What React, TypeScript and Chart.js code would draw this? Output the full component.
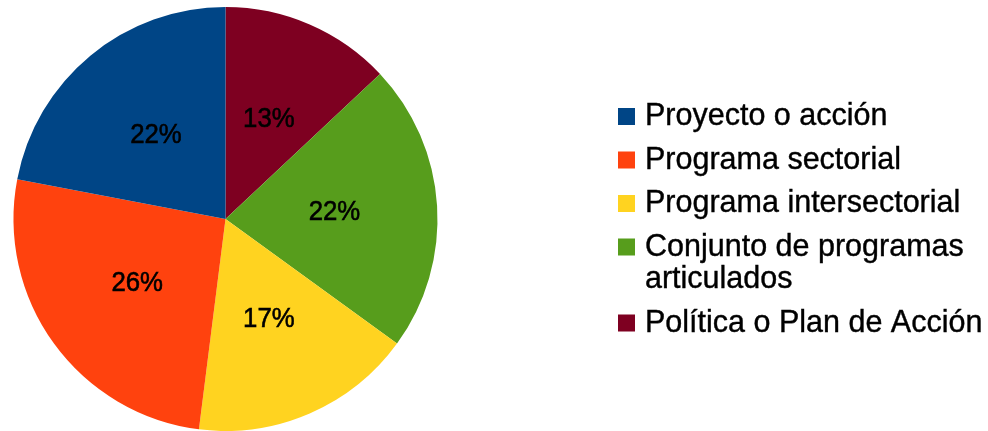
import React, { useEffect, useRef } from "react";
import { Chart, registerables } from "chart.js";

Chart.register(...registerables);

// Legend order (as shown in the reference legend)
const categories = [
  "Proyecto o acción",
  "Programa sectorial",
  "Programa intersectorial",
  "Conjunto de programas articulados",
  "Política o Plan de Acción",
];
const values = [22, 26, 17, 22, 13];
const colors = ["#004586", "#ff420e", "#ffd320", "#579d1c", "#7e0021"];

const FONT = '"Liberation Sans", Arial, sans-serif';

function wrapText(ctx: CanvasRenderingContext2D, text: string, maxWidth: number): string[] {
  const words = text.split(" ");
  const lines: string[] = [];
  let line = "";
  for (const w of words) {
    const test = line ? line + " " + w : w;
    if (line && ctx.measureText(test).width > maxWidth) {
      lines.push(line);
      line = w;
    } else {
      line = test;
    }
  }
  if (line) lines.push(line);
  return lines;
}

const sliceLabels = {
  id: "sliceLabels",
  afterDatasetsDraw(chart: any) {
    const ctx: CanvasRenderingContext2D = chart.ctx;
    const meta = chart.getDatasetMeta(0);
    const data: number[] = chart.data.datasets[0].data;
    const total = data.reduce((a: number, b: number) => a + b, 0);
    ctx.save();
    ctx.font = `28px ${FONT}`;
    ctx.fillStyle = "#000000";
    ctx.strokeStyle = "#000000";
    ctx.lineWidth = 0.6;
    ctx.textAlign = "center";
    ctx.textBaseline = "middle";
    meta.data.forEach((arc: any, i: number) => {
      const { x, y, startAngle, endAngle, outerRadius } = arc.getProps(
        ["x", "y", "startAngle", "endAngle", "outerRadius"],
        true
      );
      const mid = (startAngle + endAngle) / 2;
      const r = outerRadius * 0.515;
      const pct = Math.round((data[i] / total) * 100) + "%";
      ctx.save();
      ctx.translate(x + Math.cos(mid) * r, y + Math.sin(mid) * r);
      ctx.scale(0.92, 1);
      ctx.fillText(pct, 0, 0);
      ctx.strokeText(pct, 0, 0);
      ctx.restore();
    });
    ctx.restore();
  },
};

const sideLegend = {
  id: "sideLegend",
  afterDraw(chart: any) {
    const ctx: CanvasRenderingContext2D = chart.ctx;
    ctx.save();
    ctx.font = `30.5px ${FONT}`;
    ctx.textBaseline = "alphabetic";
    ctx.textAlign = "left";
    ctx.strokeStyle = "#000000";
    ctx.lineWidth = 0.4;
    const boxX = 618;
    const textX = 645;
    let baseline = 125;
    categories.forEach((cat, i) => {
      const lines = wrapText(ctx, cat, 345);
      ctx.fillStyle = colors[i];
      ctx.fillRect(boxX, baseline - 17, 17, 17);
      ctx.fillStyle = "#000000";
      lines.forEach((ln, j) => {
        ctx.fillText(ln, textX, baseline + j * 32.5);
        ctx.strokeText(ln, textX, baseline + j * 32.5);
      });
      baseline += (lines.length - 1) * 32.5 + 43.5;
    });
    ctx.restore();
  },
};

export default function App() {
  const canvasRef = useRef<HTMLCanvasElement | null>(null);

  useEffect(() => {
    document.body.style.margin = "0";
    const canvas = canvasRef.current;
    if (!canvas) return;
    // Chart.js draws clockwise from the top; the reference runs counter-clockwise
    // in legend order, so feed the slices reversed.
    const order = categories.map((_, i) => categories.length - 1 - i);
    const chart = new Chart(canvas, {
      type: "pie",
      data: {
        labels: order.map((i) => categories[i]),
        datasets: [
          {
            data: order.map((i) => values[i]),
            backgroundColor: order.map((i) => colors[i]),
            borderWidth: 0,
          },
        ],
      },
      options: {
        responsive: false,
        animation: false,
        layout: { padding: { left: 12, right: 549, top: 7, bottom: -3 } },
        plugins: {
          legend: { display: false },
          tooltip: { enabled: false },
        },
      },
      plugins: [sliceLabels, sideLegend],
    });
    return () => chart.destroy();
  }, []);

  return (
    <div style={{ width: 988, height: 431, background: "#ffffff" }}>
      <canvas ref={canvasRef} width={988} height={431} style={{ display: "block" }} />
    </div>
  );
}
